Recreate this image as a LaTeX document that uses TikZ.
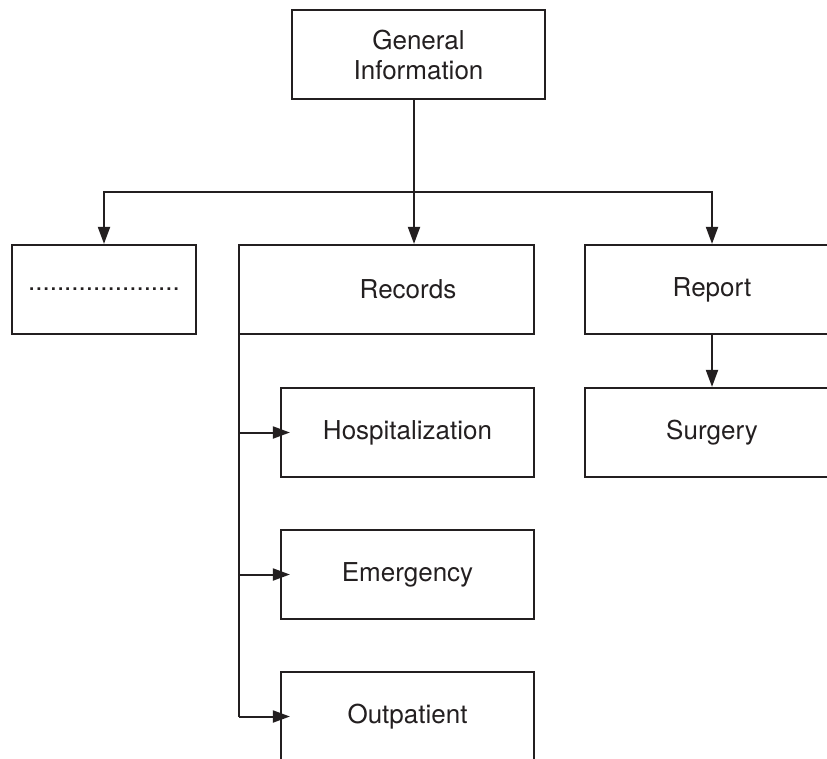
\documentclass[tikz,border=0pt]{standalone}
\usepackage{fontspec}
\setmainfont{TeX Gyre Heros}
\usetikzlibrary{arrows.meta}
\definecolor{ink}{RGB}{35,31,32}
\begin{document}
\begin{tikzpicture}[x=1pt,y=1pt,
  box/.style={draw=ink, line width=2.2pt, minimum height=89pt, inner sep=0pt,
    text=ink, font=\fontsize{26}{30}\selectfont, align=center},
  conn/.style={draw=ink, line width=2pt},
  arr/.style={conn, -{Triangle[length=17pt,width=12pt]}}]
\useasboundingbox (0,0) rectangle (827,-758);
\clip (0,0) rectangle (827,-758);

\node[box, minimum width=253pt] (gi) at (418.5,-54.5) {General\\Information};
\node[box, minimum width=184pt] (dots) at (104,-289.5) {.....................};
\node[box, minimum width=295pt] (records) at (386.5,-289.5) {\hspace*{43pt}Records};
\node[box, minimum width=254pt] (report) at (712,-289.5) {Report};
\node[box, minimum width=254pt] (surgery) at (712,-432.5) {Surgery};
\node[box, minimum width=253pt] (hosp) at (407.5,-432.5) {Hospitalization};
\node[box, minimum width=253pt] (emerg) at (407.5,-574.5) {Emergency};
\node[box, minimum width=253pt] (outp) at (407.5,-716.5) {Outpatient};

\coordinate (j) at (414,-191.7);
\draw[conn] (j |- gi.south) -- (j);
\draw[arr] (j) -| (dots.north);
\draw[arr] (j) -| (report.north);
\draw[arr] (j) -- (j |- records.north);
\draw[arr] (report.south) -- (surgery.north);

\coordinate (r) at ([xshift=1.5pt]records.south west);
\draw[conn] (r) -- (r |- outp.west);
\draw[arr, shorten >=-10pt] (r |- hosp.west) -- (hosp.west);
\draw[arr, shorten >=-10pt] (r |- emerg.west) -- (emerg.west);
\draw[arr, shorten >=-10pt] (r |- outp.west) -- (outp.west);
\end{tikzpicture}
\end{document}
